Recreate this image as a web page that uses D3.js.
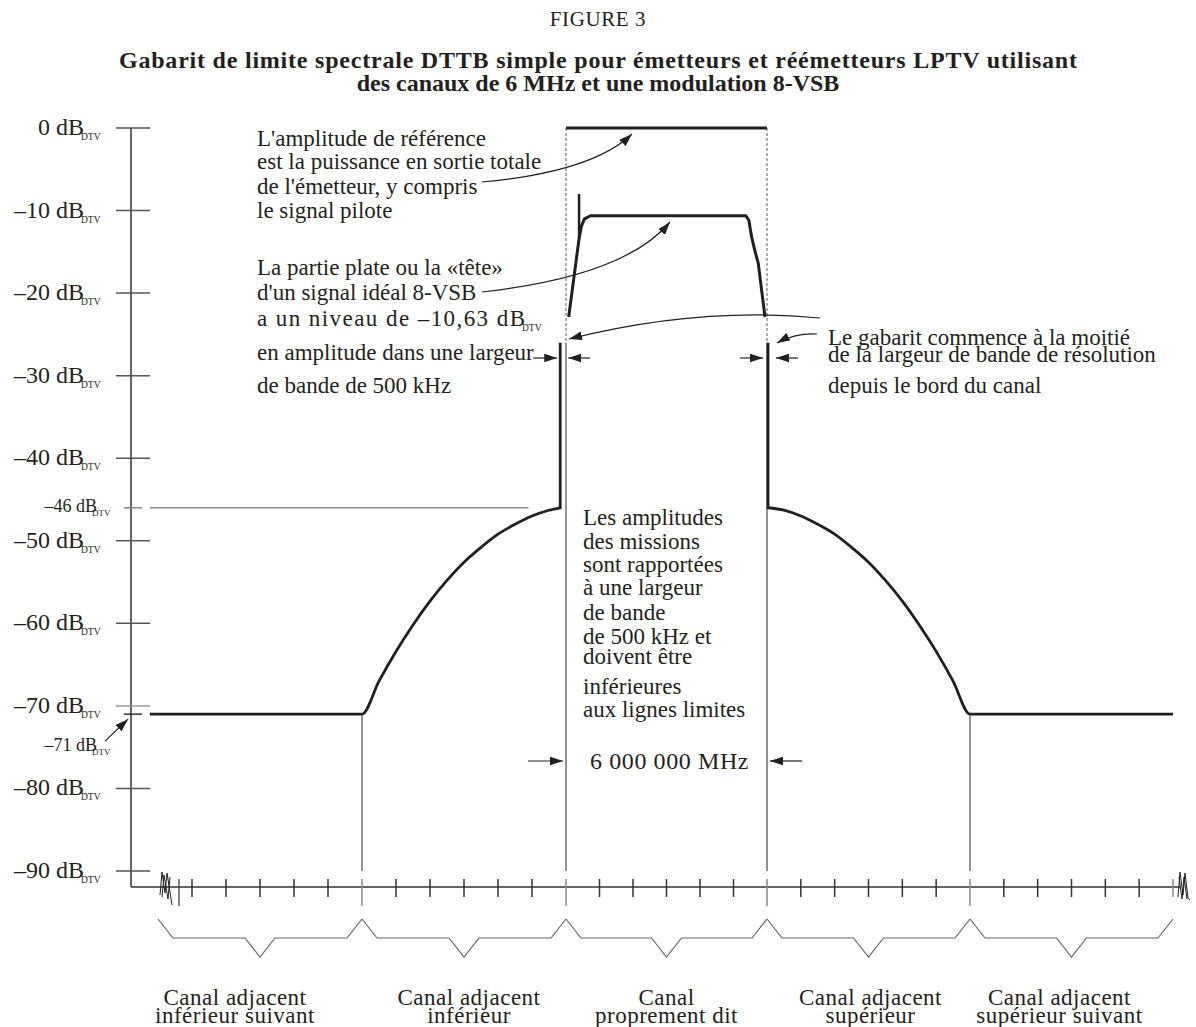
<!DOCTYPE html>
<html>
<head>
<meta charset="utf-8">
<script src="https://cdn.jsdelivr.net/npm/d3@7"></script>
<style>
  html, body { margin: 0; padding: 0; background: #fff; }
  svg { display: block; }
  text { font-family: "Liberation Serif", "Times New Roman", serif; fill: #231f20; }
</style>
</head>
<body>
<svg id="chart" width="1196" height="1027"></svg>
<script>
// ---------------- DATA ----------------
// Y axis (dB relative to total DTV power)
const yTickValues = [0, -10, -20, -30, -40, -50, -60, -70, -80, -90];
const yTickLabels = ["0 dB", "–10 dB", "–20 dB", "–30 dB", "–40 dB", "–50 dB", "–60 dB", "–70 dB", "–80 dB", "–90 dB"];
const specialLevels = [-46, -71];
const specialLabels = ["–46 dB", "–71 dB"];

// Frequency axis in MHz relative to the lower edge of the own channel
const channelEdges = [-12, -6, 0, 6, 12, 18];
const minorTicks = [-11, -10, -9, -8, -7, -6, -5, -4, -3, -2, -1, 0, 1, 2, 3, 4, 5, 6, 7, 8, 9, 10, 11, 12, 13, 14, 15, 16, 17, 18];

// Emission mask
const maskLowerFreq = [-12.24, -6.0, -5.5, -5.0, -4.5, -4.0, -3.5, -3.0, -2.5, -2.0, -1.5, -1.0, -0.5, -0.17];
const maskLowerDb   = [-71, -71, -67.0, -63.4, -60.2, -57.3, -54.8, -52.6, -50.8, -49.2, -48.0, -47.0, -46.3, -46];
const maskUpperFreq = [6.03, 6.5, 7.0, 7.5, 8.0, 8.5, 9.0, 9.5, 10.0, 10.5, 11.0, 11.5, 12.0, 18.0];
const maskUpperDb   = [-46, -46.3, -47.0, -48.0, -49.2, -50.8, -52.6, -54.8, -57.3, -60.2, -63.4, -67.0, -71, -71];
const maskTopDb = -26;

// Ideal 8-VSB spectrum
const signalFreq = [0.08, 0.39, 0.46, 0.55, 0.73, 5.37, 5.46, 5.54, 5.64, 5.74, 5.82, 5.94];
const signalDb   = [-22.9, -13.4, -11.9, -11.0, -10.63, -10.63, -11.2, -13.2, -14.9, -16.4, -19.0, -22.9];
const pilotFreq = 0.39;
const pilotDb = [-8.0, -13.4];

// Reference amplitude (total power)
const refFreq = [0, 6];
const refDb = [0, 0];

// Channel labels
const channelLabels = [
  ["Canal adjacent", "inférieur suivant"],
  ["Canal adjacent", "inférieur"],
  ["Canal", "proprement dit"],
  ["Canal adjacent", "supérieur"],
  ["Canal adjacent", "supérieur suivant"]
];

const titleTop = "FIGURE 3";
const titleLines = [
  "Gabarit de limite spectrale DTTB simple pour émetteurs et réémetteurs LPTV utilisant",
  "des canaux de 6 MHz et une modulation 8-VSB"
];

const note1 = ["L'amplitude de référence", "est la puissance en sortie totale", "de l'émetteur, y compris", "le signal pilote"];
const note2 = ["La partie plate ou la «tête»", "d'un signal idéal 8-VSB", "a un niveau de –10,63 dB", "en amplitude dans une largeur", "de bande de 500 kHz"];
const note3 = ["Le gabarit commence à la moitié", "de la largeur de bande de résolution", "depuis le bord du canal"];
const note4 = ["Les amplitudes", "des missions", "sont rapportées", "à une largeur", "de bande", "de 500 kHz et", "doivent être", "inférieures", "aux lignes limites"];
const bandwidthLabel = "6 000 000 MHz";
const subDTV = "DTV";

// ---------------- DRAWING ----------------
const svg = d3.select("#chart");
svg.append("rect").attr("width", 1196).attr("height", 1027).attr("fill", "#fff");

const x = d3.scaleLinear().domain(channelEdges).range([158, 362, 566, 767, 970, 1173]);
const y = d3.scaleLinear().domain([0, -90]).range([128, 871]);
const axisX = 131, baseY = 887;
const FONT = 23;

const defs = svg.append("defs");
defs.append("marker").attr("id", "ah").attr("viewBox", "0 0 12 8")
  .attr("refX", 12).attr("refY", 4).attr("markerWidth", 13).attr("markerHeight", 9)
  .attr("markerUnits", "userSpaceOnUse").attr("orient", "auto")
  .append("path").attr("d", "M0,0 L12,4 L0,8 Z").attr("fill", "#231f20");

// Titles
svg.append("text").attr("x", 598).attr("y", 26).attr("text-anchor", "middle")
  .attr("font-size", 21).attr("letter-spacing", 0.6).text(titleTop);
titleLines.forEach((t, i) => {
  const el = svg.append("text").attr("x", 598).attr("y", 68 + i * 23).attr("text-anchor", "middle")
    .attr("font-size", 24).attr("font-weight", "bold").text(t);
  if (i === 0) el.attr("textLength", 958).attr("lengthAdjust", "spacing");
});

// Y axis
svg.append("line").attr("x1", axisX).attr("x2", axisX).attr("y1", y(0)).attr("y2", baseY)
  .attr("stroke", "#333").attr("stroke-width", 1.5);
yTickValues.forEach((v, i) => {
  svg.append("line").attr("x1", 116).attr("x2", 150).attr("y1", y(v)).attr("y2", y(v))
    .attr("stroke", v === -70 ? "#999" : "#555").attr("stroke-width", 1.5);
  svg.append("text").attr("x", 84).attr("y", y(v) + 7).attr("text-anchor", "end")
    .attr("font-size", 24).text(yTickLabels[i]);
  svg.append("text").attr("x", 81).attr("y", y(v) + 12).attr("font-size", 9.5).text(subDTV);
});
specialLevels.forEach((v, i) => {
  svg.append("line").attr("x1", 124).attr("x2", 142).attr("y1", y(v)).attr("y2", y(v))
    .attr("stroke", v === -46 ? "#888" : "#333").attr("stroke-width", 1.5);
  const ty = v === -46 ? y(v) + 4 : y(v) + 37;
  svg.append("text").attr("x", 97).attr("y", ty).attr("text-anchor", "end")
    .attr("font-size", 18).text(specialLabels[i]);
  svg.append("text").attr("x", 92).attr("y", ty + 4).attr("font-size", 9).text(subDTV);
});
// -46 reference line
svg.append("line").attr("x1", 150).attr("x2", x(-1.1)).attr("y1", y(-46)).attr("y2", y(-46))
  .attr("stroke", "#888").attr("stroke-width", 1.5);
// -71 arrow
svg.append("line").attr("x1", 105).attr("y1", y(-71) + 27).attr("x2", 128).attr("y2", y(-71) + 5)
  .attr("stroke", "#231f20").attr("stroke-width", 1.2).attr("marker-end", "url(#ah)");

// X axis
svg.append("line").attr("x1", axisX).attr("x2", 1180).attr("y1", baseY).attr("y2", baseY)
  .attr("stroke", "#333").attr("stroke-width", 1.5);
minorTicks.forEach(f => {
  const isEdge = channelEdges.includes(f);
  svg.append("line").attr("x1", x(f)).attr("x2", x(f)).attr("y1", baseY - 8)
    .attr("y2", baseY + (isEdge && f !== 18 ? 19 : 10))
    .attr("stroke", isEdge ? "#888" : "#333").attr("stroke-width", 1.5);
});
// extra tick near left break
svg.append("line").attr("x1", x(-12) + 21).attr("x2", x(-12) + 21).attr("y1", baseY - 8).attr("y2", baseY + 19)
  .attr("stroke", "#333").attr("stroke-width", 1.2);
// break marks
const x0 = x(-12), x1 = x(18);
const brk = d3.line();
svg.append("path").attr("d", brk([[x0 + 2, baseY + 8], [x0 + 4, baseY - 15], [x0 + 7, baseY + 6], [x0 + 9, baseY - 14], [x0 + 14, baseY + 18]]))
  .attr("fill", "none").attr("stroke", "#231f20").attr("stroke-width", 1);
svg.append("path").attr("d", brk([[x0 + 4, baseY + 10], [x0 + 6, baseY - 12], [x0 + 10, baseY + 12], [x0 + 12, baseY - 10]]))
  .attr("fill", "none").attr("stroke", "#231f20").attr("stroke-width", 1);
svg.append("path").attr("d", brk([[x1 + 5, baseY + 10], [x1 + 7, baseY - 15], [x1 + 10, baseY + 8], [x1 + 12, baseY - 14], [x1 + 15, baseY + 11], [x1 + 17, baseY + 13]]))
  .attr("fill", "none").attr("stroke", "#231f20").attr("stroke-width", 1);
svg.append("path").attr("d", brk([[x1 + 6, baseY - 10], [x1 + 9, baseY + 12], [x1 + 11, baseY - 10], [x1 + 14, baseY + 12]]))
  .attr("fill", "none").attr("stroke", "#231f20").attr("stroke-width", 1);

// Channel boundary verticals
[-6, 12].forEach(f => {
  svg.append("line").attr("x1", x(f)).attr("x2", x(f)).attr("y1", y(-71) + 1).attr("y2", baseY - 16)
    .attr("stroke", "#888").attr("stroke-width", 1.8);
});
[0, 6].forEach(f => {
  svg.append("line").attr("x1", x(f)).attr("x2", x(f)).attr("y1", y(maskTopDb)).attr("y2", baseY - 16)
    .attr("stroke", "#888").attr("stroke-width", 1.8);
  svg.append("line").attr("x1", x(f)).attr("x2", x(f)).attr("y1", y(0)).attr("y2", y(maskTopDb))
    .attr("stroke", "#777").attr("stroke-width", 1.2).attr("stroke-dasharray", "3,2");
});

// Reference line at 0 dB
svg.append("line").attr("x1", x(refFreq[0])).attr("x2", x(refFreq[1])).attr("y1", y(refDb[0])).attr("y2", y(refDb[1]))
  .attr("stroke", "#231f20").attr("stroke-width", 3);

// Mask
const curve = d3.line().x(d => x(d[0])).y(d => y(d[1])).curve(d3.curveMonotoneX);
const lowerPts = maskLowerFreq.map((f, i) => [f, maskLowerDb[i]]);
const upperPts = maskUpperFreq.map((f, i) => [f, maskUpperDb[i]]);
svg.append("path").attr("d", curve(lowerPts) + `L${x(maskLowerFreq[maskLowerFreq.length - 1])},${y(maskTopDb)}`)
  .attr("fill", "none").attr("stroke", "#231f20").attr("stroke-width", 2.8).attr("stroke-linejoin", "miter");
svg.append("path").attr("d", `M${x(maskUpperFreq[0])},${y(maskTopDb)}L` + curve(upperPts).slice(1))
  .attr("fill", "none").attr("stroke", "#231f20").attr("stroke-width", 2.8).attr("stroke-linejoin", "miter");

// Signal
const lin = d3.line().x(d => x(d[0])).y(d => y(d[1]));
svg.append("path").attr("d", lin(signalFreq.map((f, i) => [f, signalDb[i]])))
  .attr("fill", "none").attr("stroke", "#231f20").attr("stroke-width", 3).attr("stroke-linejoin", "round");
svg.append("line").attr("x1", x(pilotFreq)).attr("x2", x(pilotFreq)).attr("y1", y(pilotDb[0])).attr("y2", y(pilotDb[1]))
  .attr("stroke", "#231f20").attr("stroke-width", 2.5);

// Notes
function block(lines, x0, ys, size) {
  return lines.map((t, i) =>
    svg.append("text").attr("x", x0).attr("y", ys[i]).attr("font-size", size || FONT).text(t));
}
block(note1, 257, [146, 169, 194, 218]);
const n2 = block(note2, 257, [275, 300, 326, 360, 393]);
n2[2].attr("textLength", 268).attr("lengthAdjust", "spacing");
svg.append("text").attr("x", 257 + 268 - 3).attr("y", 331).attr("font-size", 9.5).text(subDTV);
block(note3, 828, [345, 362, 393]);
block(note4, 583, [525, 549, 572, 595, 620, 644, 664, 694, 717]);
svg.append("text").attr("x", 590).attr("y", 769).attr("font-size", 24).attr("letter-spacing", 0.6).text(bandwidthLabel);

// Annotation arrows
function arrow(d) {
  svg.append("path").attr("d", d).attr("fill", "none").attr("stroke", "#231f20")
    .attr("stroke-width", 1.2).attr("marker-end", "url(#ah)");
}
arrow("M482,182 Q592,172 632,134");
arrow("M482,292 Q625,276 670,222");
arrow("M820,318 Q700,306 569,339");
arrow("M817,334 Q795,333 777,343");
// half-RBW arrows at mask edges
const lb = x(maskLowerFreq[maskLowerFreq.length - 1]), rb = x(maskUpperFreq[0]);
const ay = 358;
arrow(`M${lb - 27},${ay} L${lb - 3},${ay}`);
arrow(`M${lb + 30},${ay} L${lb + 8},${ay}`);
arrow(`M${rb - 28},${ay} L${rb - 5},${ay}`);
arrow(`M${rb + 30},${ay} L${rb + 8},${ay}`);
// 6 MHz arrows
arrow(`M${x(0) - 38},761 L${x(0) - 3},761`);
arrow(`M${x(6) + 35},761 L${x(6) + 3},761`);

// Braces and channel labels
const labelShift = [-25, 5, 0, 2, -12];
for (let i = 0; i < channelEdges.length - 1; i++) {
  const b0 = x(channelEdges[i]), b1 = x(channelEdges[i + 1]), c = (b0 + b1) / 2;
  svg.append("path").attr("d", d3.line()([[b0, 919], [b0 + 15, 938], [c - 15, 938], [c, 957], [c + 15, 938], [b1 - 15, 938], [b1, 919]]))
    .attr("fill", "none").attr("stroke", "#666").attr("stroke-width", 1.2);
  channelLabels[i].forEach((t, j) => {
    svg.append("text").attr("x", c + labelShift[i]).attr("y", 1005 + j * 18).attr("text-anchor", "middle")
      .attr("font-size", 23).attr("letter-spacing", 0.5).text(t);
  });
}
</script>
</body>
</html>
